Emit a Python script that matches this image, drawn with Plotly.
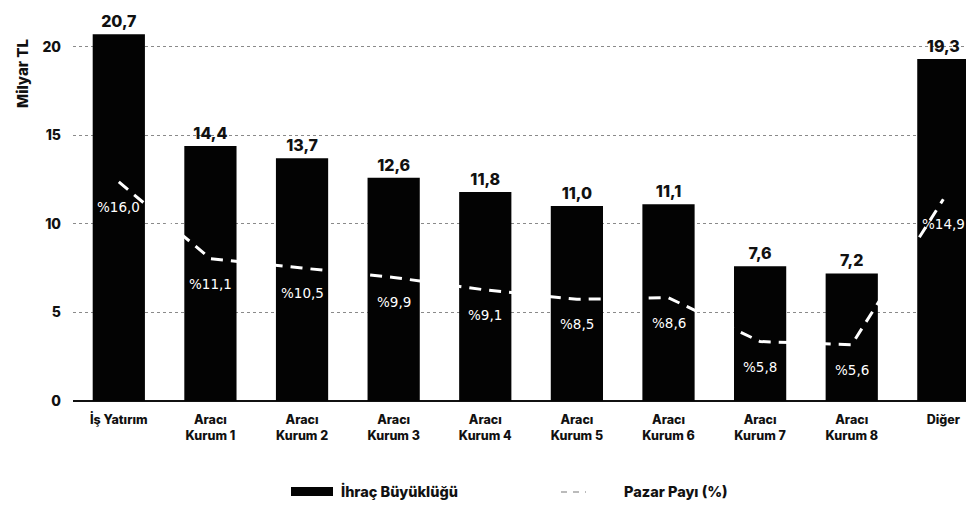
import plotly.graph_objects as go

categories = ["İş Yatırım", "Aracı<br>Kurum 1", "Aracı<br>Kurum 2", "Aracı<br>Kurum 3",
              "Aracı<br>Kurum 4", "Aracı<br>Kurum 5", "Aracı<br>Kurum 6", "Aracı<br>Kurum 7",
              "Aracı<br>Kurum 8", "Diğer"]
ihrac_buyuklugu = [20.7, 14.4, 13.7, 12.6, 11.8, 11.0, 11.1, 7.6, 7.2, 19.3]
pazar_payi = [16.0, 11.1, 10.5, 9.9, 9.1, 8.5, 8.6, 5.8, 5.6, 14.9]
y_ticks = [0, 5, 10, 15, 20]

W, H = 974, 505
ML, MR, MT, MB = 65, 2, 5, 112
PW, PH = W - ML - MR, H - MT - MB


def px(x, y):
    return (x - ML) / PW, (H - MB - y) / PH


def tr(v):
    return f"{v:.1f}".replace(".", ",")


BOLD = dict(family="Inter, Lato, sans-serif", color="#111111", weight=800)

fig = go.Figure()
fig.add_trace(go.Bar(
    x=list(range(len(categories))), y=ihrac_buyuklugu,
    marker=dict(color="#030303", line=dict(width=0)),
    width=0.57,
    text=[tr(v) for v in ihrac_buyuklugu], textposition="outside",
    textfont=dict(size=16, **BOLD), constraintext="none", cliponaxis=False,
    name="İhraç Büyüklüğü", showlegend=False,
))
fig.add_trace(go.Scatter(
    x=list(range(len(categories))), y=pazar_payi, yaxis="y2",
    mode="lines", line=dict(color="white", width=3, dash="12px,8px"),
    name="Pazar Payı (%)", showlegend=False, cliponaxis=False,
))

annotations = []
for i, v in enumerate(pazar_payi):
    annotations.append(dict(x=i, y=v, xref="x", yref="y2", yshift=-25,
                            text="%" + tr(v), showarrow=False,
                            font=dict(family="DejaVu Sans", size=13.5, color="white")))

# axis title
ax, ay = px(14, 66)
annotations.append(dict(x=ax, y=ay, xref="paper", yref="paper", text="Milyar TL",
                        textangle=-90, showarrow=False, xanchor="center", yanchor="middle",
                        font=dict(size=15, **BOLD)))

# legend (custom)
x0, y0 = px(283, 479)
x1, y1 = px(325, 488)
lx, ly = px(331, 483)
d0, dy = px(553, 484)
d1, _ = px(578, 484)
px2, _ = px(614, 483)
shapes = [
    dict(type="rect", xref="paper", yref="paper", x0=x0, y0=y0, x1=x1, y1=y1,
         fillcolor="#030303", line=dict(width=0)),
    dict(type="line", xref="paper", yref="paper", x0=d0, y0=dy, x1=d1, y1=dy,
         line=dict(color="#bbbbbb", width=2, dash="6px,6px")),
]
annotations.append(dict(x=lx, y=ly, xref="paper", yref="paper", text="İhraç Büyüklüğü",
                        xanchor="left", yanchor="middle", showarrow=False,
                        font=dict(size=14.5, **BOLD)))
annotations.append(dict(x=px2, y=ly, xref="paper", yref="paper", text="Pazar Payı (%)",
                        xanchor="left", yanchor="middle", showarrow=False,
                        font=dict(size=14.5, **BOLD)))

fig.update_layout(
    width=W, height=H,
    margin=dict(l=ML, r=MR, t=MT, b=MB),
    paper_bgcolor="white", plot_bgcolor="white",
    xaxis=dict(tickmode="array", tickvals=list(range(len(categories))), ticktext=categories,
               range=[-0.5, 9.4], showgrid=False, showline=False, zeroline=False,
               tickfont=dict(size=12.5, **BOLD), ticklabelstandoff=9),
    yaxis=dict(range=[0, 21.9], tickvals=y_ticks, ticktext=[str(t) for t in y_ticks],
               showgrid=True, gridcolor="#8a8a8a", griddash="dot", gridwidth=1,
               zeroline=True, zerolinecolor="#111111", zerolinewidth=1.5,
               showline=False, tickfont=dict(size=14, **BOLD), ticklabelstandoff=11),
    yaxis2=dict(range=[2.0, 26.8], overlaying="y", visible=False),
    shapes=shapes, annotations=annotations,
    showlegend=False,
)

fig.write_html("out.html")
